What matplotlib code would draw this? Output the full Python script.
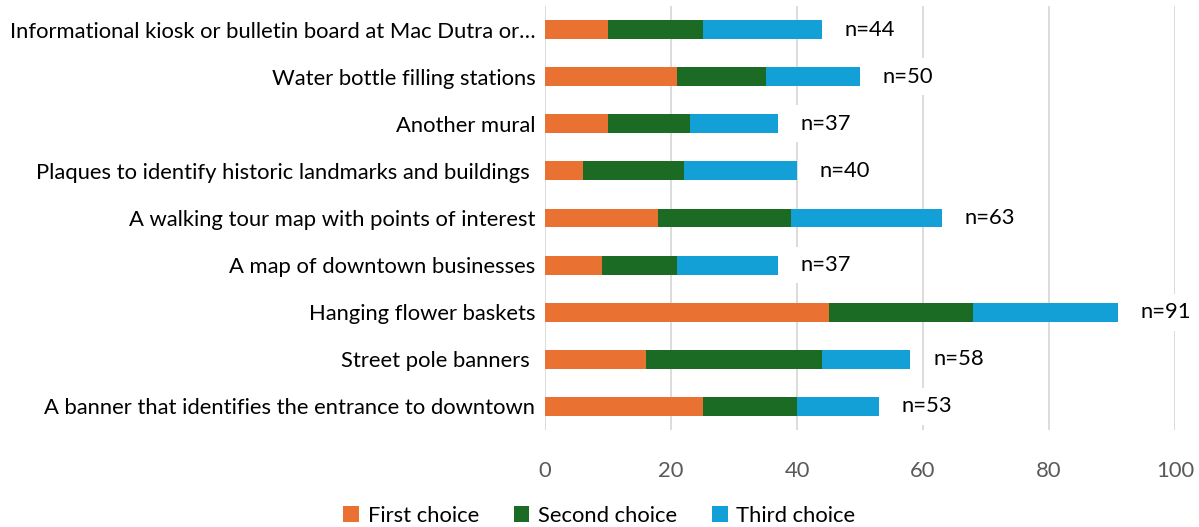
import matplotlib
matplotlib.use("Agg")
import matplotlib.pyplot as plt
import numpy as np

categories = [
    "Informational kiosk or bulletin board at Mac Dutra or\u2026",
    "Water bottle filling stations",
    "Another mural",
    "Plaques to identify historic landmarks and buildings ",
    "A walking tour map with points of interest",
    "A map of downtown businesses",
    "Hanging flower baskets",
    "Street pole banners ",
    "A banner that identifies the entrance to downtown",
]
first = [10, 21, 10, 6, 18, 9, 45, 16, 25]
second = [15, 14, 13, 16, 21, 12, 23, 28, 15]
third = [19, 15, 14, 18, 24, 16, 23, 14, 13]
n_labels = ["n=44", "n=50", "n=37", "n=40", "n=63", "n=37", "n=91", "n=58", "n=53"]
xticks = [0, 20, 40, 60, 80, 100]
series_names = ["First choice", "Second choice", "Third choice"]
colors = ["#E97132", "#1B6B24", "#12A0D7"]

plt.rcParams['font.family'] = ['Lato', 'DejaVu Sans']
FS = 15.8

fig = plt.figure(figsize=(11.99, 5.27), dpi=100)
ax = fig.add_axes([545/1199, 1-430/527, 630/1199, 424/527])

y = np.arange(len(categories))
f = np.array(first); s = np.array(second); t = np.array(third)
h = 0.4
ax.barh(y, f, height=h, color=colors[0], label=series_names[0], zorder=3)
ax.barh(y, s, left=f, height=h, color=colors[1], label=series_names[1], zorder=3)
ax.barh(y, t, left=f+s, height=h, color=colors[2], label=series_names[2], zorder=3)

tot = f + s + t
for yi, tv, lab in zip(y, tot, n_labels):
    ax.text(tv + 3.6, yi, lab, ha='left', va='center', fontsize=FS, color='black', zorder=4,
            bbox=dict(facecolor='white', edgecolor='none', pad=6))

ax.set_ylim(len(categories) - 0.5, -0.5)
ax.set_xlim(0, 100)
ax.set_xticks(xticks)
ax.set_yticks(y)
ax.set_yticklabels(categories, fontsize=FS)
ax.tick_params(axis='x', labelsize=FS, labelcolor='#595959', length=0, pad=22)
ax.tick_params(axis='y', length=0, pad=7)
ax.grid(axis='x', color='#D9D9D9', linewidth=1.3, zorder=0)
for sp in ax.spines.values():
    sp.set_visible(False)

fig.legend(loc='lower center', bbox_to_anchor=(0.5, -0.035), ncol=3, frameon=False,
           fontsize=FS, handlelength=0.7, handleheight=0.7, columnspacing=1.6, handletextpad=0.4)

fig.savefig("out.png", dpi=100)
